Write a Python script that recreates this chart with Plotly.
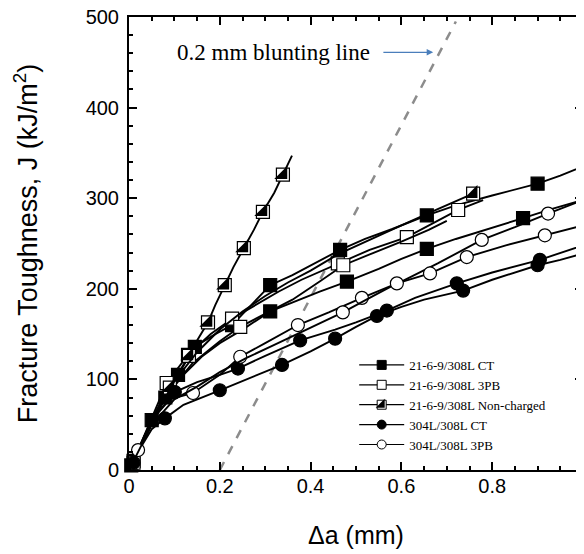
import plotly.graph_objects as go

# ---------------- data ----------------
# 21-6-9/308L CT (filled squares), two specimens
ct_a_x = [0, 0.005, 0.02, 0.05, 0.08, 0.108, 0.145, 0.19, 0.227, 0.27, 0.311, 0.36, 0.41, 0.465, 0.52, 0.58, 0.656, 0.72, 0.8, 0.9, 0.95, 1.0]
ct_a_y = [0, 5, 22, 55, 85, 105, 136, 150, 160, 182, 204, 215, 228, 243, 255, 266, 281, 292, 303, 316, 325, 335]
ct_a_mk = [1, 3, 5, 6, 8, 10, 13, 16, 19]
ct_b_x = [0, 0.01, 0.02, 0.05, 0.08, 0.12, 0.16, 0.2, 0.25, 0.311, 0.36, 0.42, 0.48, 0.55, 0.6, 0.656, 0.72, 0.8, 0.868, 0.93, 1.0]
ct_b_y = [0, 10, 20, 52, 80, 105, 125, 140, 155, 175, 185, 197, 208, 222, 233, 244, 255, 267, 278, 288, 298]
ct_b_mk = [1, 4, 9, 12, 15, 18]

# 21-6-9/308L 3PB (open squares), two specimens
pb_a_x = [0, 0.01, 0.02, 0.05, 0.083, 0.13, 0.18, 0.227, 0.28, 0.33, 0.38, 0.46, 0.53, 0.612, 0.67, 0.725, 0.78]
pb_a_y = [0, 8, 22, 58, 96, 127, 150, 167, 182, 197, 210, 228, 243, 257, 272, 287, 298]
pb_a_mk = [1, 4, 5, 7, 11, 13, 15]
pb_b_x = [0, 0.02, 0.05, 0.09, 0.14, 0.2, 0.245, 0.3, 0.36, 0.42, 0.472, 0.54, 0.6, 0.66, 0.7]
pb_b_y = [0, 20, 52, 88, 118, 142, 158, 172, 188, 208, 226, 240, 252, 265, 275]
pb_b_mk = [6, 10]

# 21-6-9/308L Non-charged (half-filled squares)
nc_a_x = [0, 0.01, 0.03, 0.05, 0.07, 0.09, 0.11, 0.132, 0.15, 0.174, 0.19, 0.211, 0.23, 0.253, 0.275, 0.295, 0.32, 0.339, 0.359]
nc_a_y = [0, 10, 30, 50, 70, 91, 108, 126, 143, 163, 182, 204, 224, 245, 265, 285, 306, 326, 347]
nc_a_mk = [5, 7, 9, 11, 13, 15, 17]
nc_b_x = [0, 0.03, 0.06, 0.1, 0.15, 0.2, 0.25, 0.3, 0.35, 0.4, 0.46, 0.52, 0.6, 0.68, 0.758]
nc_b_y = [0, 30, 62, 98, 130, 155, 175, 192, 207, 220, 238, 252, 270, 288, 305]
nc_b_mk = [14]

# 304L/308L CT (filled circles), two specimens
c_a_x = [0, 0.01, 0.02, 0.05, 0.079, 0.12, 0.2, 0.26, 0.337, 0.4, 0.454, 0.5, 0.546, 0.6, 0.65, 0.736, 0.8, 0.9, 0.95, 1.0]
c_a_y = [0, 8, 20, 45, 57, 72, 88, 100, 116, 131, 145, 158, 170, 180, 188, 198, 210, 226, 232, 239]
c_a_mk = [1, 4, 6, 8, 10, 12, 15, 17]
c_b_x = [0, 0.02, 0.05, 0.101, 0.15, 0.2, 0.24, 0.3, 0.377, 0.454, 0.5, 0.568, 0.63, 0.722, 0.8, 0.905, 1.0]
c_b_y = [0, 22, 55, 86, 97, 105, 112, 126, 143, 155, 163, 176, 190, 206, 218, 232, 248]
c_b_mk = [3, 6, 8, 11, 13, 15]

# 304L/308L 3PB (open circles), two specimens
o_a_x = [0, 0.01, 0.02, 0.05, 0.09, 0.141, 0.2, 0.245, 0.3, 0.372, 0.44, 0.513, 0.6, 0.68, 0.777, 0.85, 0.923, 1.0]
o_a_y = [0, 9, 22, 55, 78, 85, 105, 125, 140, 160, 174, 190, 208, 228, 254, 268, 283, 298]
o_a_mk = [2, 5, 7, 9, 11, 14, 16]
o_b_x = [0, 0.02, 0.05, 0.1, 0.15, 0.2, 0.26, 0.32, 0.38, 0.471, 0.53, 0.59, 0.663, 0.744, 0.83, 0.916, 1.0]
o_b_y = [0, 20, 50, 78, 92, 108, 124, 138, 152, 174, 190, 206, 217, 235, 248, 259, 270]
o_b_mk = [9, 11, 12, 13, 15]

# blunting line
blunt_x = [0.2, 0.72]
blunt_y = [0, 495]

series_names = ["21-6-9/308L CT", "21-6-9/308L 3PB", "21-6-9/308L Non-charged",
                "304L/308L CT", "304L/308L 3PB"]

x_ticks = [0, 0.2, 0.4, 0.6, 0.8, 1]
x_tick_text = ["0", "0.2", "0.4", "0.6", "0.8", "1"]
y_ticks = [0, 100, 200, 300, 400, 500]

# ---------------- figure ----------------
fig = go.Figure()
MS = 13
LW = 1.9
SANS = "Liberation Sans, Arial, sans-serif"
SERIF = "Liberation Serif, Times New Roman, serif"

fig.add_trace(go.Scatter(x=blunt_x, y=blunt_y, mode="lines",
                         line=dict(color="#8c8c8c", width=2.5, dash="dash"),
                         showlegend=False, hoverinfo="skip"))

def add_curve(xs, ys, mk, symbol, fill, half=False):
    fig.add_trace(go.Scatter(x=xs, y=ys, mode="lines",
                             line=dict(color="black", width=LW),
                             showlegend=False, hoverinfo="skip"))
    mx = [xs[i] for i in mk]
    my = [ys[i] for i in mk]
    fig.add_trace(go.Scatter(x=mx, y=my, mode="markers", showlegend=False,
                             cliponaxis=False,
                             marker=dict(symbol=symbol, size=MS,
                                         color=fill,
                                         line=dict(color="black", width=1.2))))
    if half:
        fig.add_trace(go.Scatter(x=mx, y=my, mode="markers", showlegend=False,
                                 cliponaxis=False,
                                 marker=dict(symbol="triangle-se", size=MS * 1.11,
                                             color="black", line=dict(width=0))))

add_curve(ct_a_x, ct_a_y, ct_a_mk, "square", "black")
add_curve(ct_b_x, ct_b_y, ct_b_mk, "square", "black")
add_curve(pb_a_x, pb_a_y, pb_a_mk, "square", "white")
add_curve(pb_b_x, pb_b_y, pb_b_mk, "square", "white")
add_curve(nc_a_x, nc_a_y, nc_a_mk, "square", "white", half=True)
add_curve(nc_b_x, nc_b_y, nc_b_mk, "square", "white", half=True)
add_curve(c_a_x, c_a_y, c_a_mk, "circle", "black")
add_curve(c_b_x, c_b_y, c_b_mk, "circle", "black")
add_curve(o_a_x, o_a_y, o_a_mk, "circle", "white")
add_curve(o_b_x, o_b_y, o_b_mk, "circle", "white")

# legend entries
leg_sym = ["square", "square", "square", "circle", "circle"]
leg_fill = ["black", "white", "white", "black", "white"]
for name, sym, fc in zip(series_names, leg_sym, leg_fill):
    fig.add_trace(go.Scatter(x=[None], y=[None], mode="lines+markers", name=name,
                             line=dict(color="black", width=1.2),
                             marker=dict(symbol=sym, size=9, color=fc,
                                         line=dict(color="black", width=1)),
                             legend="legend"))
# overlay legend for the half-filled symbol
for i, name in enumerate(series_names):
    fig.add_trace(go.Scatter(x=[None], y=[None], mode="lines+markers", name=name,
                             line=dict(color="rgba(0,0,0,0)", width=1.2),
                             marker=dict(symbol="triangle-se", size=10,
                                         color="black" if i == 2 else "rgba(0,0,0,0)",
                                         line=dict(width=0)),
                             legend="legend2"))

fig.add_annotation(x=0.67, y=461, ax=0.557, ay=461, xref="x", yref="y",
                   axref="x", ayref="y", text="", showarrow=True,
                   arrowhead=2, arrowsize=1, arrowwidth=1.3, arrowcolor="#4a7ebb")
fig.add_annotation(x=0.319, y=461, xref="x", yref="y", text="0.2 mm blunting line",
                   showarrow=False,
                   font=dict(family=SERIF, size=23, color="black"))

axis_common = dict(showline=True, linecolor="black", linewidth=2, mirror="allticks",
                   ticks="inside", tickcolor="black", tickwidth=1.5, ticklen=8,
                   showgrid=False, zeroline=False, automargin=False,
                   ticklabeloverflow="allow",
                   tickfont=dict(family=SANS, size=20, color="black"))

leg_common = dict(x=0.496, y=0.265, xanchor="left", yanchor="top",
                  bgcolor="rgba(0,0,0,0)", itemwidth=45, tracegroupgap=0,
                  itemclick=False, itemdoubleclick=False)

# page body has an 8px default margin, so the figure is sized to the visible area
fig.update_layout(
    width=576, height=546,
    margin=dict(l=121, r=1, t=9, b=84, autoexpand=False),
    paper_bgcolor="white", plot_bgcolor="white",
    xaxis=dict(range=[0, 1], tickvals=x_ticks, ticktext=x_tick_text,
               ticklabelstandoff=-3,
               minor=dict(dtick=0.05, ticklen=4, ticks="inside", tickcolor="black", tickwidth=1.5),
               title=dict(text="Δa (mm)", standoff=30,
                          font=dict(family=SANS, size=25, color="black")),
               **axis_common),
    yaxis=dict(range=[0, 500], tickvals=y_ticks, ticklabelstandoff=4,
               minor=dict(dtick=20, ticklen=4, ticks="inside", tickcolor="black", tickwidth=1.5),
               title=dict(text="Fracture Toughness, J (kJ/m<sup>2</sup>)", standoff=40,
                          font=dict(family=SANS, size=27, color="black")),
               **axis_common),
    legend=dict(font=dict(family=SERIF, size=13, color="black"), **leg_common),
    legend2=dict(font=dict(family=SERIF, size=13, color="rgba(0,0,0,0)"), **leg_common),
    showlegend=True,
)

fig.write_html("out.html")
